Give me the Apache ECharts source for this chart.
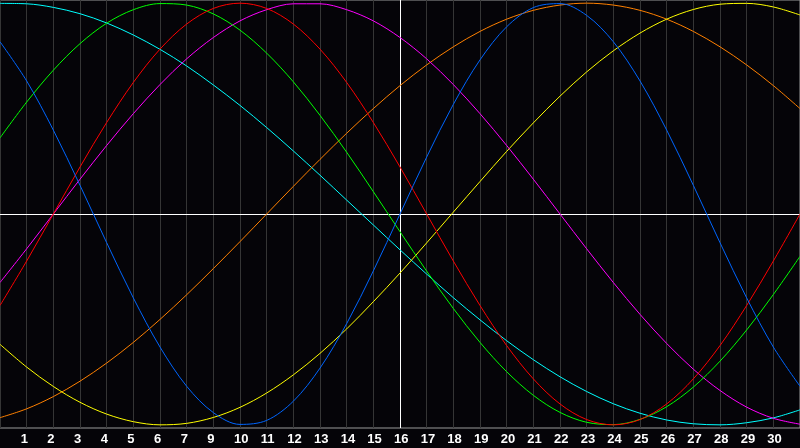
<!DOCTYPE html>
<html>
<head>
<meta charset="utf-8">
<style>
  html, body { margin: 0; padding: 0; background: #050408; }
  #chart { width: 800px; height: 448px; }
</style>
<script src="https://cdn.jsdelivr.net/npm/echarts@6/dist/echarts.min.js"></script>
</head>
<body>
<div id="chart"></div>
<script>
// Tick labels shown under grid lines 1..29
const tickLabels = ['1','2','3','4','5','6','7','9','10','11','12','13','14','15','16','17','18','19','20','21','22','23','24','25','26','27','28','29','30'];
const todayIndex = 15;

// Curve values read at each grid line (0..30)
const blueVals    = [0.817,0.631,0.398,0.136,-0.136,-0.398,-0.631,-0.817,-0.942,-0.998,-0.979,-0.888,-0.731,-0.520,-0.270,0,0.270,0.520,0.731,0.888,0.979,0.998,0.942,0.817,0.631,0.398,0.136,-0.136,-0.398,-0.631,-0.817];
const redVals     = [-0.434,-0.223,0,0.223,0.434,0.624,0.782,0.901,0.975,1,0.975,0.901,0.782,0.624,0.434,0.223,0,-0.223,-0.434,-0.624,-0.782,-0.901,-0.975,-1,-0.975,-0.901,-0.782,-0.624,-0.434,-0.223,0];
const greenVals   = [0.361,0.531,0.682,0.808,0.905,0.969,0.998,0.991,0.949,0.872,0.763,0.627,0.468,0.293,0.106,-0.084,-0.271,-0.448,-0.609,-0.748,-0.860,-0.941,-0.988,-0.999,-0.974,-0.914,-0.821,-0.698,-0.550,-0.382,-0.201];
const cyanVals    = [0.999,0.997,0.980,0.950,0.906,0.849,0.781,0.702,0.612,0.515,0.410,0.299,0.184,0.066,-0.052,-0.170,-0.285,-0.397,-0.502,-0.601,-0.691,-0.772,-0.842,-0.900,-0.945,-0.977,-0.995,-1.000,-0.990,-0.967,-0.929];
const magentaVals = [-0.325,-0.165,0,0.165,0.325,0.476,0.614,0.736,0.837,0.916,0.969,0.997,0.997,0.969,0.916,0.837,0.736,0.614,0.476,0.325,0.165,0,-0.165,-0.325,-0.476,-0.614,-0.736,-0.837,-0.916,-0.969,-0.997];
const orangeVals  = [-0.966,-0.924,-0.866,-0.793,-0.707,-0.609,-0.5,-0.383,-0.259,-0.131,0,0.131,0.259,0.383,0.5,0.609,0.707,0.793,0.866,0.924,0.966,0.991,1,0.991,0.966,0.924,0.866,0.793,0.707,0.609,0.5];
const yellowVals  = [-0.618,-0.726,-0.818,-0.893,-0.949,-0.985,-1.000,-0.993,-0.965,-0.917,-0.849,-0.763,-0.661,-0.545,-0.416,-0.280,-0.137,0.009,0.154,0.297,0.432,0.559,0.674,0.774,0.858,0.924,0.970,0.995,0.999,0.982,0.944];

const seriesDefs = [
  { name: 'cyan', color: '#00ffff', vals: cyanVals },
  { name: 'orange', color: '#ff8000', vals: orangeVals },
  { name: 'yellow', color: '#ffff00', vals: yellowVals },
  { name: 'magenta', color: '#ff00ff', vals: magentaVals },
  { name: 'green', color: '#00ff00', vals: greenVals },
  { name: 'red', color: '#ff0000', vals: redVals },
  { name: 'blue', color: '#0066ff', vals: blueVals }
];

const chart = echarts.init(document.getElementById('chart'), null, { renderer: 'canvas' });

const series = seriesDefs.map((s, idx) => ({
  name: s.name,
  type: 'line',
  smooth: 0.33,
  showSymbol: false,
  symbol: 'none',
  silent: true,
  lineStyle: { color: s.color, width: 1 },
  data: s.vals.map((v, i) => [i, v]),
  z: 3,
  markLine: idx === 0 ? {
    silent: true,
    symbol: ['none', 'none'],
    label: { show: false },
    lineStyle: { color: '#ffffff', width: 1, type: 'solid' },
    data: [{ yAxis: 0 }, { xAxis: todayIndex }],
    z: 2
  } : undefined
}));

chart.setOption({
  animation: false,
  backgroundColor: '#050408',
  grid: {
    left: 0, right: 0, top: 0, bottom: 20,
    show: true, borderColor: '#9a9a9a', borderWidth: 1, backgroundColor: 'transparent'
  },
  xAxis: {
    type: 'value',
    min: 0, max: 30, interval: 1,
    axisLine: { show: true, lineStyle: { color: '#a0a0a0', width: 1 } },
    axisTick: { show: false },
    splitLine: { show: true, lineStyle: { color: '#353535', width: 1 } },
    axisLabel: {
      show: true,
      color: '#ffffff',
      fontFamily: 'Liberation Sans',
      fontWeight: 'bold',
      fontSize: 13,
      margin: 5,
      align: 'left',
      padding: [0, 0, 0, -6],
      showMinLabel: false,
      showMaxLabel: false,
      formatter: function (v) {
        const k = Math.round(v);
        if (k < 1 || k > tickLabels.length) return '';
        return tickLabels[k - 1];
      }
    }
  },
  yAxis: {
    type: 'value',
    min: -1.015, max: 1.015,
    axisLine: { show: false },
    axisTick: { show: false },
    axisLabel: { show: false },
    splitLine: { show: false }
  },
  series: series
});
</script>
</body>
</html>
